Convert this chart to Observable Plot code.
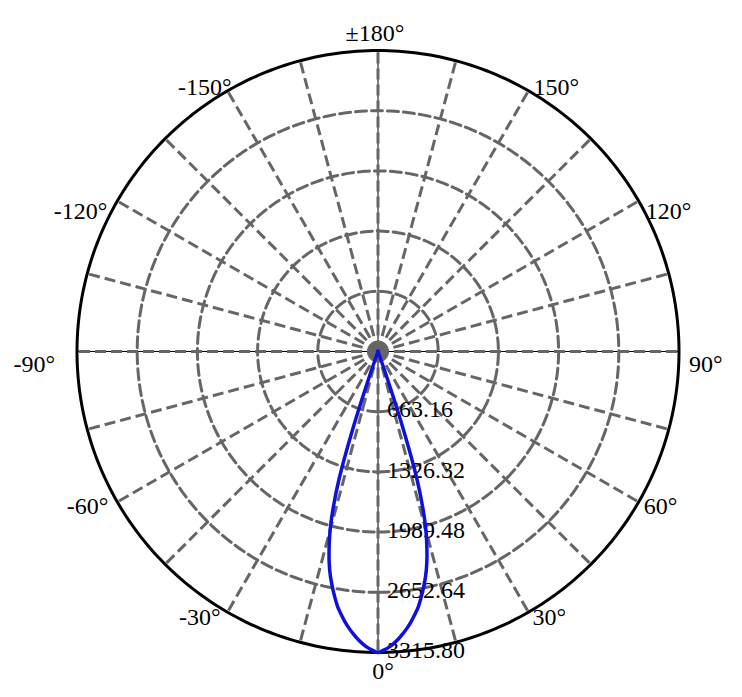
<!DOCTYPE html>
<html>
<head>
<meta charset="utf-8">
<script src="https://cdn.jsdelivr.net/npm/d3@7"></script>
<script src="https://cdn.jsdelivr.net/npm/@observablehq/plot@0.6"></script>
<style>
  html, body { margin: 0; padding: 0; background: #fff; }
</style>
</head>
<body>
<div id="chart"></div>
<script>
// ---- data ----
const maxIntensity = 3315.80;
const ringValues = [663.16, 1326.32, 1989.48, 2652.64, 3315.80];
const ringLabels = ["663.16", "1326.32", "1989.48", "2652.64", "3315.80"];
const spokeAngles = [0, 15, 30, 45, 60, 75, 90, 105, 120, 135, 150, 165,
                     180, 195, 210, 225, 240, 255, 270, 285, 300, 315, 330, 345];
const axisAngles = [0, 90];
const angleTicks = [0, 30, 60, 90, 120, 150, 180, -150, -120, -90, -60, -30];
const angleTickLabels = ["0°", "30°", "60°", "90°", "120°", "150°", "±180°",
                         "-150°", "-120°", "-90°", "-60°", "-30°"];
// luminous intensity curve (gamma angle in degrees, candela)
const gammaAngles = [-20, -19, -18, -17, -16, -15, -14, -13, -12, -11, -10,
                     -9, -8, -7, -6, -5, -4, -3, -2, -1, 0,
                     1, 2, 3, 4, 5, 6, 7, 8, 9, 10,
                     11, 12, 13, 14, 15, 16, 17, 18, 19, 20];
const intensity = [0, 300, 920, 1460, 1790, 2040, 2225, 2390, 2525, 2638, 2745,
                   2845, 2922, 2997, 3064, 3123, 3178, 3225, 3264, 3293, 3315.80,
                   3293, 3264, 3225, 3178, 3123, 3064, 2997, 2922, 2845, 2745,
                   2638, 2525, 2390, 2225, 2040, 1790, 1460, 920, 300, 0];

// ---- helpers ----
const rad = d => d * Math.PI / 180;
const px = (r, a) => r * Math.sin(rad(a));   // 90° to the right
const py = (r, a) => -r * Math.cos(rad(a));  // 0° at the bottom

const spokes = spokeAngles.map(a => ({x1: 0, y1: 0, x2: px(maxIntensity, a), y2: py(maxIntensity, a)}));
const axes = axisAngles.map(a => ({x1: px(-maxIntensity, a), y1: py(-maxIntensity, a), x2: px(maxIntensity, a), y2: py(maxIntensity, a)}));
const circleSteps = d3.range(0, 360, 1);
const ringPts = ringValues.flatMap((v, i) => circleSteps.map(a => ({ring: i, x: px(v, a), y: py(v, a)})));
const innerRings = ringPts.filter(d => d.ring < ringValues.length - 1);
const outerRing = ringPts.filter(d => d.ring === ringValues.length - 1);
const curvePts = gammaAngles.map((a, i) => ({x: px(intensity[i], a), y: py(intensity[i], a)}));
const ringText = ringValues.map((v, i) => ({x: 0, y: py(v, 0), label: ringLabels[i]}));

// label placement style (pixel offsets from the end of each spoke)
const dxMap = {"0": 5, "30": 4, "60": 5, "90": 10, "120": 7, "150": 5, "180": -3,
               "-30": -7, "-60": -9, "-90": -22, "-120": -10, "-150": 4};
const dyMap = {"0": 19, "30": 5, "60": 4, "90": 13, "120": 10, "150": -4, "180": -17};

const font = "'Liberation Serif', 'Times New Roman', serif";
const angleMarks = angleTicks.map((a, i) => {
  const s = Math.round(Math.sin(rad(a)) * 1000);
  const anchor = s > 0 ? "start" : s < 0 ? "end" : "middle";
  return Plot.text([{x: px(maxIntensity, a), y: py(maxIntensity, a), label: angleTickLabels[i]}], {
    x: "x", y: "y", text: "label", textAnchor: anchor, lineAnchor: "middle",
    dx: dxMap[String(a)], dy: dyMap[String(Math.abs(a))],
    fontSize: 24, fontFamily: font, fill: "#000"
  });
});

const chart = Plot.plot({
  width: 742,
  height: 697,
  marginLeft: 76.5,
  marginRight: 63.5,
  marginTop: 50,
  marginBottom: 45,
  x: {domain: [-maxIntensity, maxIntensity], axis: null},
  y: {domain: [-maxIntensity, maxIntensity], axis: null},
  style: {background: "#fff", fontFamily: font},
  marks: [
    Plot.link(axes, {x1: "x1", y1: "y1", x2: "x2", y2: "y2", stroke: "#000", strokeWidth: 1}),
    Plot.line(innerRings, {x: "x", y: "y", z: "ring", curve: "linear-closed", stroke: "#666", strokeWidth: 3, strokeDasharray: "11,5"}),
    Plot.link(spokes, {x1: "x1", y1: "y1", x2: "x2", y2: "y2", stroke: "#666", strokeWidth: 3, strokeDasharray: "11,5"}),
    Plot.line(outerRing, {x: "x", y: "y", curve: "linear-closed", stroke: "#000", strokeWidth: 3}),
    Plot.text(ringText, {x: "x", y: "y", text: "label", textAnchor: "start", lineAnchor: "middle", dx: 9, dy: -2, fontSize: 24, fontFamily: font, fill: "#000"}),
    Plot.line(curvePts, {x: "x", y: "y", curve: "catmull-rom", stroke: "#1010dd", strokeWidth: 3.5, strokeLinejoin: "miter", strokeLinecap: "square"}),
    ...angleMarks
  ]
});
document.getElementById("chart").appendChild(chart);
</script>
</body>
</html>
